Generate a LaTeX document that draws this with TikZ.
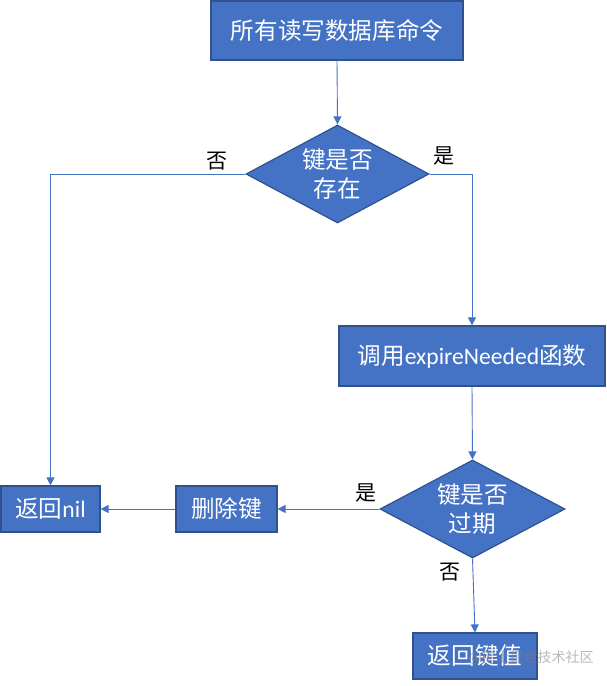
\documentclass[tikz,border=0pt]{standalone}
\usepackage{fontspec}
\setmainfont{Noto Sans CJK SC}
\newfontfamily\latfont{Carlito}
\usetikzlibrary{shapes.geometric,arrows.meta}
\definecolor{boxfill}{HTML}{4472C4}
\definecolor{boxedge}{HTML}{2F528F}
\definecolor{linecol}{HTML}{4472C4}
\begin{document}
\begin{tikzpicture}[x=1pt,y=-1pt,
  procbox/.style={rectangle, draw=boxedge, fill=boxfill, line width=1.2pt, text=white,
    font=\fontsize{23.6}{28}\selectfont, inner sep=0pt, align=center},
  decision/.style={diamond, draw=boxedge, fill=boxfill, line width=1.2pt, text=white,
    font=\fontsize{23.6}{29}\selectfont, inner sep=0pt, align=center, shape aspect=1.87},
  conn/.style={draw=linecol, line width=0.9pt, -{Triangle[length=8pt,width=8pt]}},
  lbl/.style={font=\fontsize{21}{24}\selectfont, text=black, inner sep=0pt},
  wm/.style={font=\fontsize{14}{16}\selectfont, text=gray, opacity=0.55, inner sep=0pt}]
\useasboundingbox (0,0) rectangle (607,686);
\node[procbox, minimum width=252pt, minimum height=59pt] (top) at (337,30.5) {所有读写数据库命令};
\node[decision, minimum width=183pt, minimum height=98pt] (d1) at (337.5,174) {键是否\\存在};
\node[procbox, minimum width=266pt, minimum height=60pt] (call) at (472,356) {调用{\latfont expireNeeded}函数};
\node[decision, minimum width=185pt, minimum height=98pt] (d2) at (472.5,509) {键是否\\过期};
\node[procbox, minimum width=101pt, minimum height=46pt] (del) at (226.5,509) {删除键};
\node[procbox, minimum width=99pt, minimum height=46pt] (nil) at (50.5,509) {返回{\latfont nil}};
\node[procbox, minimum width=124pt, minimum height=46pt] (ret) at (475,656) {返回键值};
\draw[conn] (top.south) -- (d1.north);
\draw[conn] (d1.west) -| (nil.north);
\draw[conn] (d1.east) -| (call.north);
\draw[conn] (call.south) -- (d2.north);
\draw[conn] (d2.west) -- (del.east);
\draw[conn] (del.west) -- (nil.east);
\draw[conn] (d2.south) -- (ret.north);
\node[lbl] (l1) at (217,161) {否};
\node[lbl] (l2) at (444,156) {是};
\node[lbl] (l3) at (366,493) {是};
\node[lbl] (l4) at (450,572) {否};
\node[wm] (wmark) at (531,658) {@稀土掘金技术社区};
\end{tikzpicture}
\end{document}
